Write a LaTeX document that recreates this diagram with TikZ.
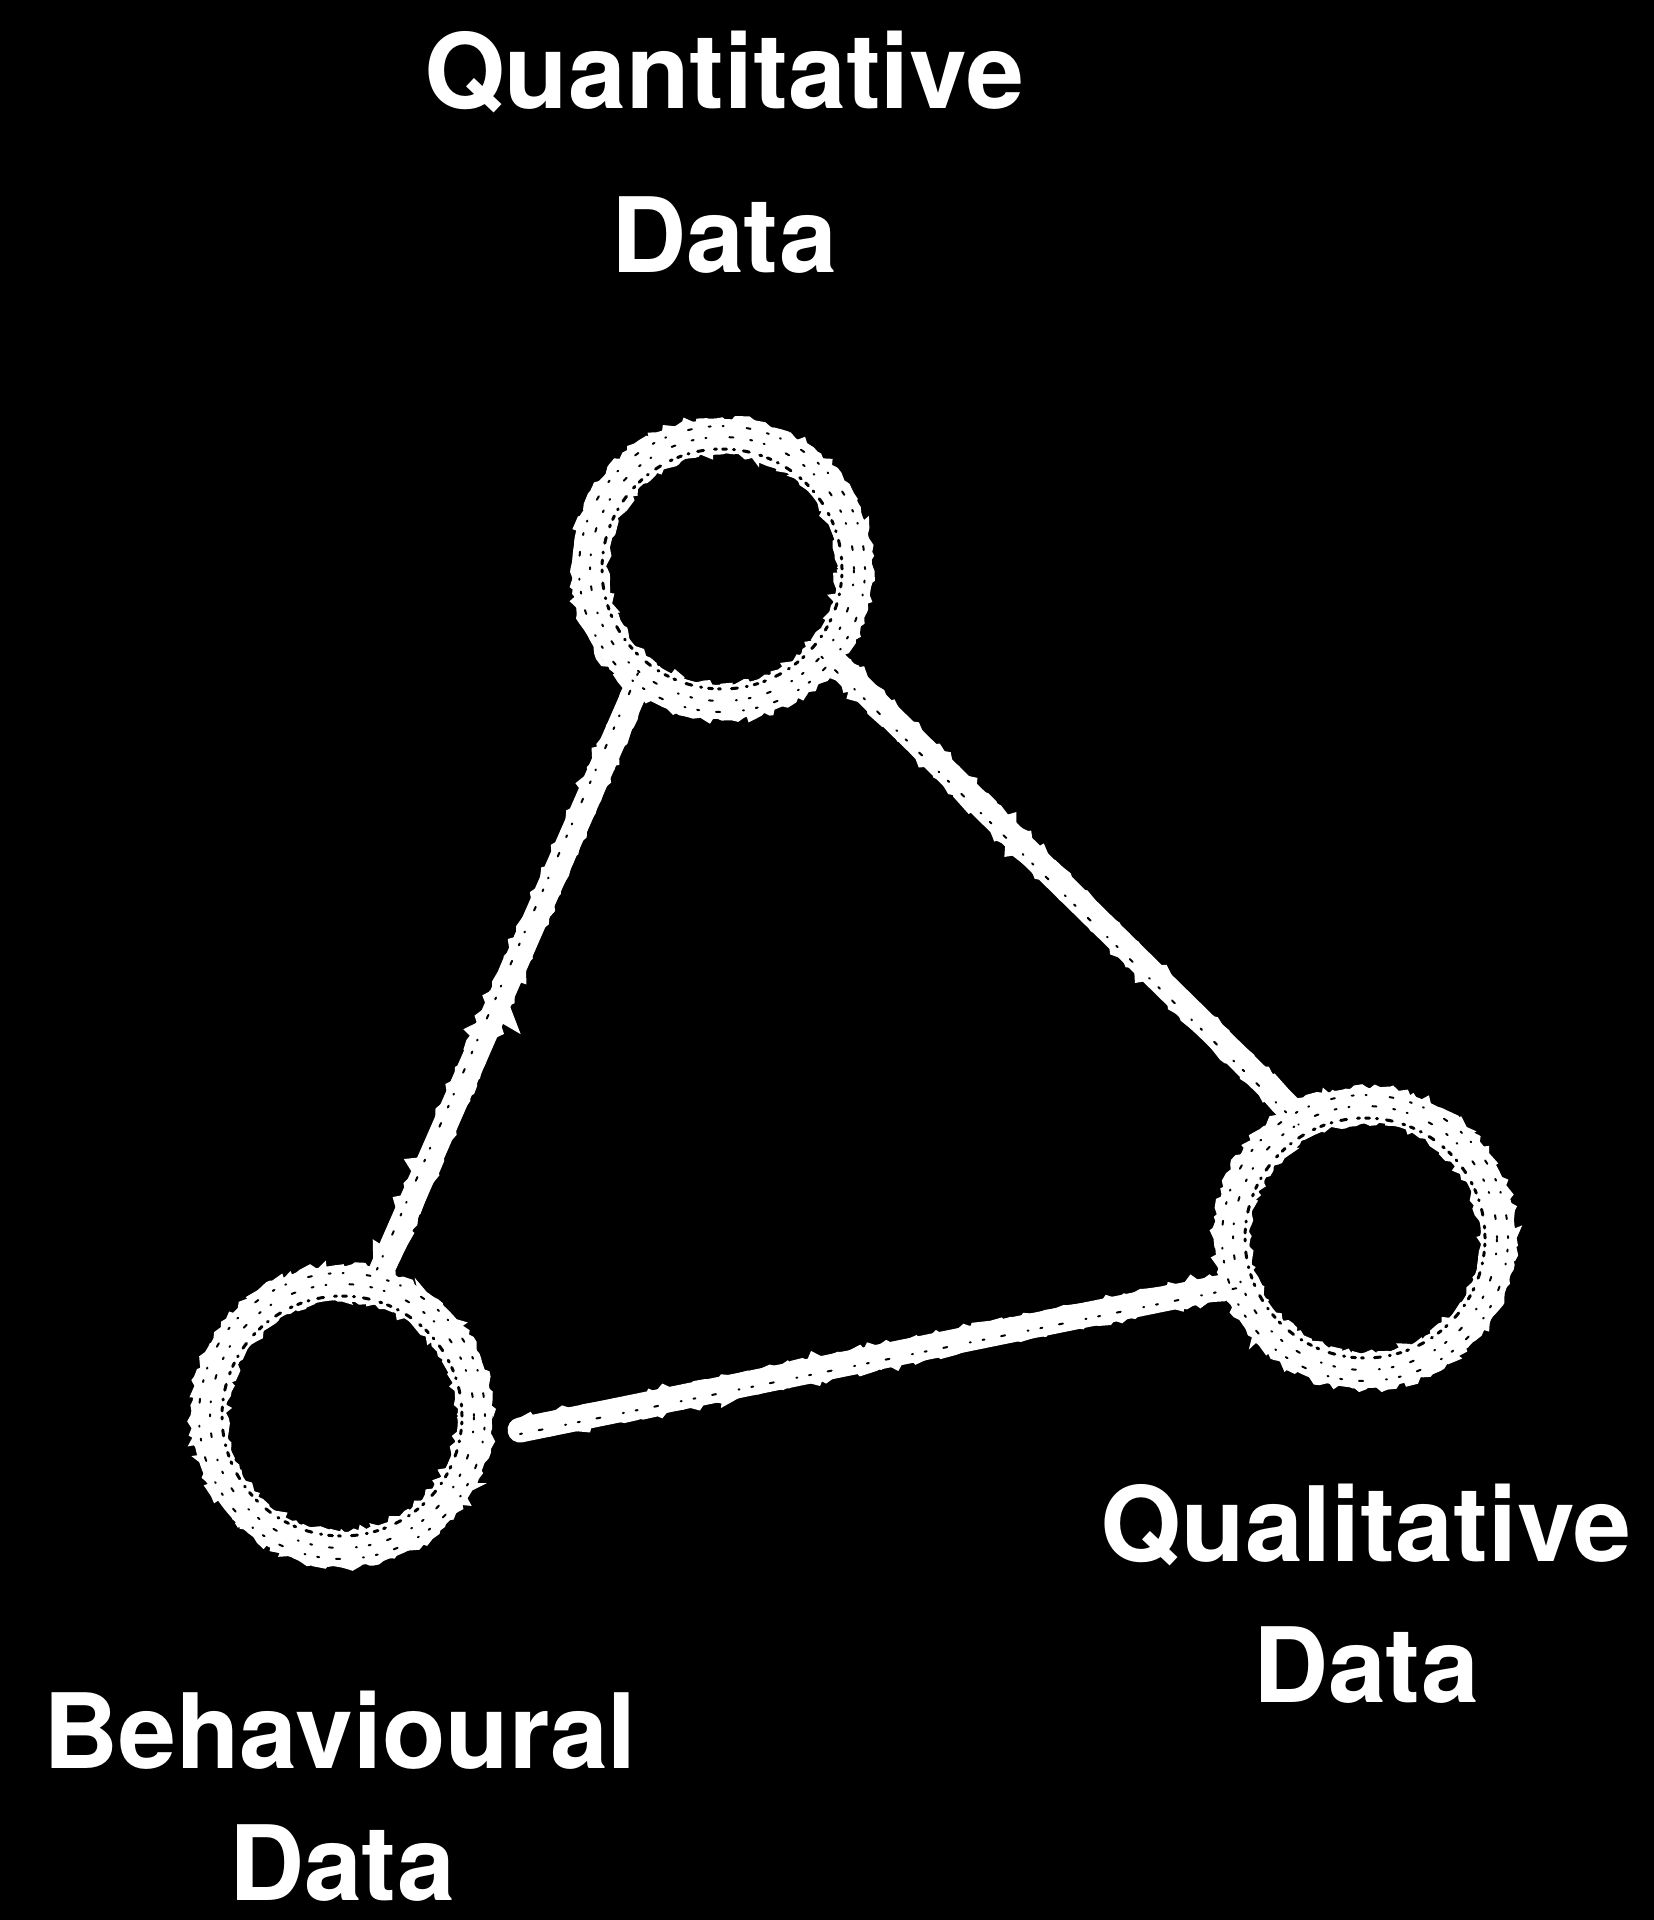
\documentclass[tikz,border=0pt]{standalone}
\usepackage{fontspec}
\setmainfont{TeX Gyre Heros}
\usetikzlibrary{decorations.pathmorphing}
\begin{document}
\begin{tikzpicture}[x=1pt,y=-1pt,
  ring/.style={circle, draw=white, line width=34pt, minimum size=266pt, inner sep=0pt, outer sep=0pt},
  chalk/.style={draw=white, line width=25pt, line cap=round},
  rough/.style={draw=white, line width=5pt, decorate, decoration={random steps, segment length=5pt, amplitude=3.5pt}},
  roughline/.style={draw=white, line width=22pt, decorate, decoration={random steps, segment length=6pt, amplitude=3.5pt}},
  speck/.style={draw=black, line width=3pt, dash pattern=on 4pt off 6pt on 2pt off 11pt on 6pt off 9pt on 1pt off 7pt, line cap=round},
  speckb/.style={draw=black, line width=2pt, dash pattern=on 2pt off 17pt on 4pt off 23pt on 1pt off 12pt, line cap=round},
  lbl/.style={text=white, font=\fontsize{104}{120}\selectfont\bfseries, inner sep=0pt, anchor=base}]
\pgfmathsetseed{11}
\useasboundingbox (0,0) rectangle (1654,1920);
\fill[black] (0,0) rectangle (1654,1920);

% circles
\node[ring] (quant) at (722,569) {};
\node[ring] (qual) at (1365,1238) {};
\node[ring] (behav) at (342,1416) {};

% connectors
\coordinate (bfree) at (520,1430);
\draw[chalk] (quant.233) -- (behav.76);
\draw[chalk] (quant.321) -- (qual.118);
\draw[chalk] (bfree) -- (qual.200);
\draw[roughline] (quant.233) -- (behav.76);
\draw[roughline] (quant.321) -- (qual.118);
\draw[roughline] (bfree) -- (qual.200);

% chalk texture on rings
\foreach \c in {quant,qual,behav}{
  \draw[rough] (\c.center) circle[radius=149pt];
  \draw[rough] (\c.center) circle[radius=117pt];
  \draw[speck] (\c.center) circle[radius=120pt];
  \draw[speckb] (\c.center) circle[radius=132pt];
  \draw[speckb] (\c.center) circle[radius=143pt];
}
\draw[speckb, transform canvas={shift={(-4pt,2pt)}}] (quant.233) -- (behav.76);
\draw[speckb, transform canvas={shift={(-4pt,-4pt)}}] (quant.321) -- (qual.118);
\draw[speckb, transform canvas={shift={(0pt,-4pt)}}] (bfree) -- (qual.200);

% labels
\node[lbl] (quantA) at (724,108) {Quantitative};
\node[lbl] (quantB) at (724,272) {Data};
\node[lbl] (qualA) at (1366,1561) {Qualitative};
\node[lbl] (qualB) at (1366,1702) {Data};
\node[lbl] (behavA) at (340,1768) {Behavioural};
\node[lbl] (behavB) at (342,1900) {Data};
\end{tikzpicture}
\end{document}
